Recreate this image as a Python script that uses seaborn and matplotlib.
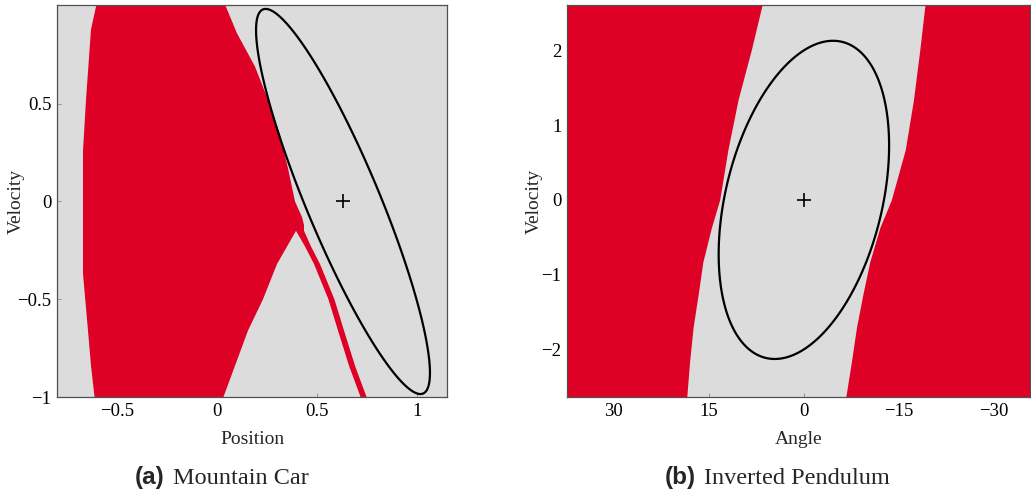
import numpy as np
import pandas as pd
import seaborn as sns
import matplotlib
matplotlib.use("Agg")
import matplotlib.pyplot as plt
from matplotlib.patches import Polygon

# ---------------- data ----------------
# (a) Mountain Car: red region boundaries (velocity, position)
mc_left_v = [1.02, 0.88, 0.52, 0.26, 0.0, -0.37, -0.66, -0.84, -1.02]
mc_left_x = [-0.60, -0.63, -0.655, -0.67, -0.67, -0.67, -0.645, -0.63, -0.61]
# upper right edge (top -> bottom)
mc_upper_v = [1.02, 0.86, 0.69, 0.52, 0.34, 0.17, 0.0, -0.08, -0.12]
mc_upper_x = [0.035, 0.10, 0.19, 0.255, 0.315, 0.355, 0.39, 0.425, 0.435]
# lower edge of the notch (bottom -> apex)
mc_lower_v = [-1.02, -0.84, -0.66, -0.50, -0.32, -0.15]
mc_lower_x = [0.025, 0.09, 0.155, 0.23, 0.30, 0.395]
# thin strip centre line (apex -> bottom)
mc_strip_v = [-0.15, -0.23, -0.32, -0.50, -0.66, -0.84, -1.02]
mc_strip_x = [0.42, 0.455, 0.50, 0.572, 0.62, 0.675, 0.74]
mc_strip_halfwidth = 0.015
mc_center = [0.63, 0.0]
mc_cov = [[0.189, -0.381], [-0.381, 0.970]]
mc_xticks = [-0.5, 0, 0.5, 1]
mc_yticks = [-1, -0.5, 0, 0.5]
mc_xticklabels = ["\u22120.5", "0", "0.5", "1"]
mc_yticklabels = ["\u22121", "\u22120.5", "0", "0.5"]

# (b) Inverted Pendulum: red region boundaries (velocity, angle)
ip_v = [2.7, 2.60, 2.01, 1.34, 0.67, 0.0, -0.37, -0.83, -1.27, -1.71, -2.17, -2.7]
ip_left_x = [6.4, 6.63, 8.3, 10.4, 12.0, 13.3, 14.6, 15.95, 16.7, 17.5, 18.05, 18.55]
ip_right_x = [-19.2, -19.1, -18.3, -17.3, -16.0, -13.8, -12.0, -10.4, -9.3, -8.3, -7.5, -6.5]
ip_center = [0.0, 0.0]
ip_cov = [[181.0, -9.8], [-9.8, 4.54]]
ip_xticks = [30, 15, 0, -15, -30]
ip_yticks = [-2, -1, 0, 1, 2]
ip_xticklabels = ["30", "15", "0", "\u221215", "\u221230"]
ip_yticklabels = ["\u22122", "\u22121", "0", "1", "2"]

RED = "#DE0025"
GRAY = "#DCDCDC"

# ---------------- style ----------------
sns.set_style("ticks")
plt.rcParams["font.family"] = ["Liberation Serif", "DejaVu Serif"]
plt.rcParams["axes.unicode_minus"] = True

W, H = 1031, 496
fig = plt.figure(figsize=(W / 100, H / 100), dpi=100)
ax1 = fig.add_axes([57 / W, (H - 397) / H, 390 / W, 392 / H])
ax2 = fig.add_axes([567 / W, (H - 397) / H, 463 / W, 392 / H])


def draw_ellipse(ax, center, cov):
    L = np.linalg.cholesky(np.array(cov))
    t = np.linspace(0, 2 * np.pi, 400, endpoint=False)
    pts = np.array(center)[:, None] + L @ np.vstack([np.cos(t), np.sin(t)])
    ax.add_patch(Polygon(pts.T, closed=True, fill=False, edgecolor="black",
                         lw=1.6, joinstyle="round", zorder=3))
    sns.scatterplot(x=[center[0]], y=[center[1]], marker="+", s=110,
                    color="black", linewidth=1.2, ax=ax, zorder=4)


def style_axes(ax, xticks, xtl, yticks, ytl, xlabel, ylab_x):
    ax.set_facecolor(GRAY)
    ax.set_xticks(xticks)
    ax.set_xticklabels(xtl)
    ax.set_yticks(yticks)
    ax.set_yticklabels(ytl)
    ax.tick_params(direction="in", length=3, width=0.6, color="#888888",
                   labelsize=13.5, pad=4, labelcolor="black")
    for s in ax.spines.values():
        s.set_visible(True)
        s.set_color("#505050")
        s.set_linewidth(0.9)
        s.set_zorder(5)
    ax.set_xlabel(xlabel, fontsize=14, labelpad=8)
    ax.set_ylabel("Velocity", fontsize=14)
    ax.yaxis.set_label_coords(ylab_x, 0.5)


# ---- (a) Mountain Car ----
ax1.set_xlim(-0.8, 1.15)
ax1.set_ylim(-1.0, 1.005)
sx = np.array(mc_strip_x)
poly_x = (list(mc_left_x) + list(mc_lower_x) + list(sx[1:] - mc_strip_halfwidth)
          + list((sx + mc_strip_halfwidth)[::-1]) + list(mc_upper_x[::-1]))
poly_v = (list(mc_left_v) + list(mc_lower_v) + list(mc_strip_v[1:])
          + list(mc_strip_v[::-1]) + list(mc_upper_v[::-1]))
ax1.fill(poly_x, poly_v, color=RED, lw=0, zorder=1)
draw_ellipse(ax1, mc_center, mc_cov)
style_axes(ax1, mc_xticks, mc_xticklabels, mc_yticks, mc_yticklabels, "Position",
           (25 - 57) / 390)
ax1.set_xlim(-0.8, 1.15)
ax1.set_ylim(-1.0, 1.005)

# ---- (b) Inverted Pendulum ----
ax2.set_xlim(37.4, -35.7)
ax2.set_ylim(-2.64, 2.61)
xl = ax2.get_xlim()
ax2.fill_betweenx(ip_v, ip_left_x, [xl[0] + 1] * len(ip_v), color=RED, lw=0, zorder=1)
ax2.fill_betweenx(ip_v, ip_right_x, [xl[1] - 1] * len(ip_v), color=RED, lw=0, zorder=1)
draw_ellipse(ax2, ip_center, ip_cov)
style_axes(ax2, ip_xticks, ip_xticklabels, ip_yticks, ip_yticklabels, "Angle",
           (543 - 567) / 463)
ax2.set_xlim(37.4, -35.7)
ax2.set_ylim(-2.64, 2.61)


# ---- captions ----
def caption(xc_px, base_px, bold, rest, size=17.5):
    y = (H - base_px) / H
    t1 = fig.text(0, y, bold, fontfamily=["Liberation Sans", "DejaVu Sans"],
                  fontweight="bold", fontsize=size, va="baseline")
    t2 = fig.text(0, y, rest, fontsize=size, va="baseline")
    fig.canvas.draw()
    r = fig.canvas.get_renderer()
    w1 = t1.get_window_extent(r).width
    w2 = t2.get_window_extent(r).width
    gap = 8
    x0 = xc_px - (w1 + gap + w2) / 2
    t1.set_x(x0 / W)
    t2.set_x((x0 + w1 + gap) / W)


caption(222, 484, "(a)", "Mountain Car")
caption(777, 484, "(b)", "Inverted Pendulum")

fig.savefig("out.png", dpi=100)
